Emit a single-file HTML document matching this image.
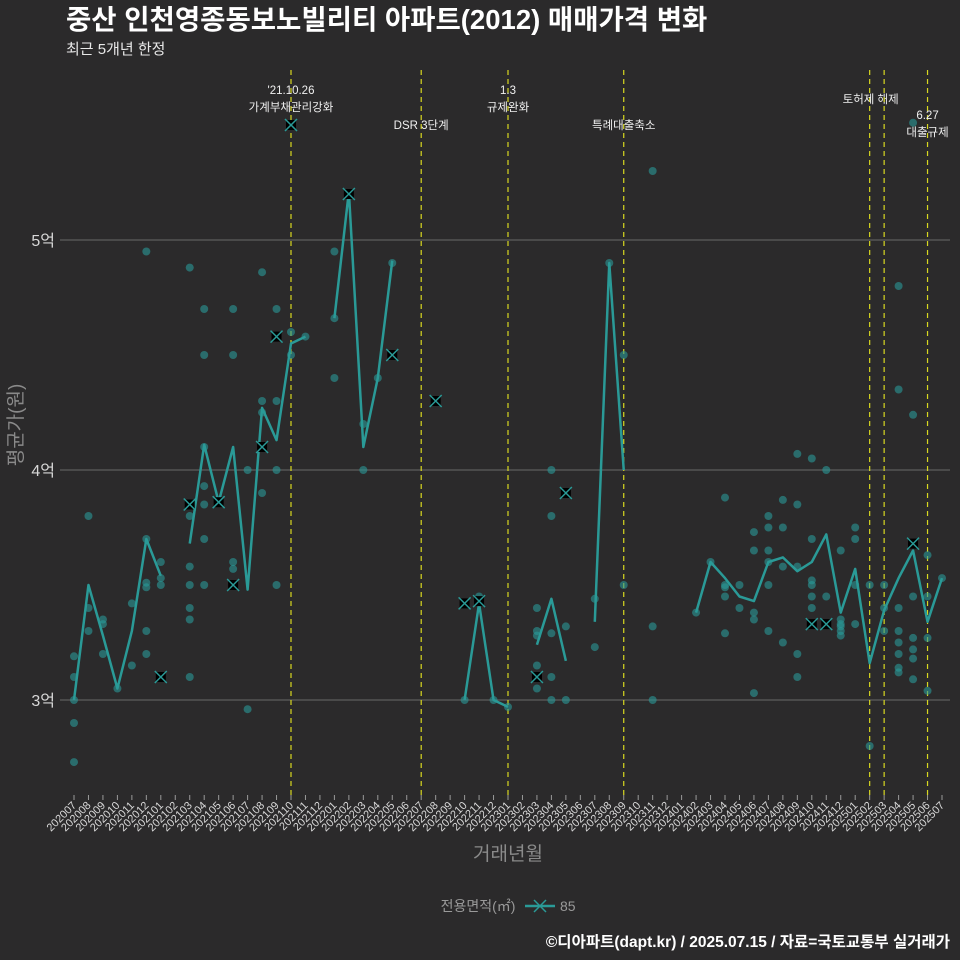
<!DOCTYPE html>
<html><head><meta charset="utf-8">
<style>
html,body{margin:0;padding:0;background:#2b2a2b;}
svg{display:block;font-family:"Liberation Sans","Noto Sans CJK KR",sans-serif;}
</style></head>
<body>
<svg id="chart" width="960" height="960" viewBox="0 0 960 960">
<rect x="0" y="0" width="960" height="960" fill="#2b2a2b"/>
<text x="66" y="29" font-size="27.5" font-weight="bold" fill="#ffffff">중산 인천영종동보노빌리티 아파트(2012) 매매가격 변화</text>
<text x="66" y="54" font-size="15" fill="#e8e8e8">최근 5개년 한정</text>
<g id="grid"></g>
<g id="vlines"></g>
<g id="marks"></g>
<g id="xaxis"></g>
<text transform="translate(22,425) rotate(-90)" text-anchor="middle" font-size="19" fill="#8a8a8a">평균가(원)</text>
<text x="508" y="860" text-anchor="middle" font-size="19" fill="#8a8a8a">거래년월</text>
<g>
<text x="478" y="911" text-anchor="middle" font-size="14" fill="#9a9a9a">전용면적(㎡)</text>
<g>
<line x1="525" y1="906" x2="555" y2="906" stroke="#2a9a97" stroke-width="2.5"/>
<path d="M534 900 L546 912 M546 900 L534 912" stroke="#2a9a97" stroke-width="1.5"/>
<text x="560" y="911" font-size="14" fill="#9a9a9a">85</text>
</g>
</g>
<text x="950" y="947" text-anchor="end" font-size="15.5" font-weight="bold" fill="#ffffff">©디아파트(dapt.kr) / 2025.07.15 / 자료=국토교통부 실거래가</text>
</svg>
<script>
const months = [];
for (let y = 2020; y <= 2025; y++) for (let m = 1; m <= 12; m++) {
  const k = y * 100 + m; if (k >= 202007 && k <= 202507) months.push(String(k));
}
const yTicks = [3, 4, 5];
const yTickLabels = ['3억', '4억', '5억'];
// monthly mean line (gaps where months missing)
const meanIdx = [0,1,2,3,4,5,6, 8,9,10,11,12,13,14,15,16, 18,19,20,21,22, 27,28,29,30, 32,33,34, 36,37,38, 43,44,45,46,47,48,49,50,51,52,53,54,55,56,57,58,59,60];
const meanVal = [3.0,3.5,3.28,3.05,3.3,3.70,3.54, 3.68,4.11,3.86,4.1,3.48,4.27,4.13,4.55,4.58, 4.66,5.21,4.1,4.4,4.91, 3.0,3.42,3.0,2.97, 3.24,3.44,3.17, 3.34,4.9,4.0, 3.38,3.6,3.53,3.45,3.43,3.6,3.62,3.56,3.6,3.72,3.38,3.57,3.16,3.39,3.53,3.65,3.34,3.53];
// individual transactions grouped by month index
const dotIdx = [0,1,2,3,4,5,6,8,9,11,12,13,14,15,16,18,20,21,22,27,28,29,30,32,33,34,36,37,38,40,43,44,45,46,47,48,49,50,51,52,53,54,55,56,57,58,59,60];
const dotVals = [
 [3.19,3.10,3.0,2.90,2.73],
 [3.80,3.40,3.30],
 [3.35,3.33,3.2],
 [3.05],
 [3.42,3.15],
 [4.95,3.70,3.51,3.49,3.3,3.2],
 [3.6,3.53,3.5],
 [4.88,3.85,3.80,3.58,3.5,3.40,3.35,3.10],
 [4.7,4.5,4.1,3.93,3.85,3.70,3.5],
 [4.7,4.5,3.6,3.57],
 [4.0,2.96],
 [4.86,4.3,4.25,3.9],
 [4.7,4.3,4.0,3.5],
 [4.6,4.5],
 [4.58],
 [4.95,4.66,4.4],
 [4.0,4.2],
 [4.4],
 [4.9],
 [3.0],
 [3.45],
 [3.0],
 [2.97],
 [3.40,3.30,3.28,3.15,3.05],
 [4.0,3.8,3.29,3.1,3.0],
 [3.32,3.0],
 [3.44,3.23],
 [4.9],
 [4.5,3.5],
 [5.3,3.32,3.0],
 [3.38],
 [3.6],
 [3.88,3.5,3.49,3.45,3.29],
 [3.5,3.4],
 [3.73,3.65,3.38,3.35,3.03],
 [3.80,3.75,3.65,3.6,3.5,3.3],
 [3.87,3.75,3.58,3.25],
 [4.07,3.85,3.58,3.2,3.1],
 [4.05,3.70,3.52,3.5,3.45,3.4],
 [4.0,3.45],
 [3.65,3.35,3.33,3.32,3.3,3.28],
 [3.75,3.70,3.5,3.33],
 [3.5,2.8],
 [3.5,3.4,3.3],
 [4.8,4.35,3.4,3.3,3.25,3.2,3.14,3.12],
 [5.51,4.24,3.45,3.27,3.22,3.18,3.09],
 [3.63,3.45,3.27,3.04],
 [3.53]
];
// highlighted (x) transactions
const xIdx = [6,8,10,11,13,14,15,19,22,25,27,28,32,34,51,52,58];
const xVal = [3.1,3.85,3.86,3.5,4.1,4.58,5.5,5.2,4.5,4.3,3.42,3.43,3.1,3.9,3.33,3.33,3.68];
// policy events
const evIdx = [15,24,30,38,55,56,59];
const evLabel1 = ["'21.10.26","","1.3","","토허제 해제","","6.27"];
const evLabel2 = ["가계부채관리강화","DSR 3단계","규제완화","특례대출축소","","","대출규제"];

const NS = 'http://www.w3.org/2000/svg';
const xS = i => 74 + i * (942 - 74) / 60;
const yS = v => 700 - (v - 3) * 230;
function mk(tag, attrs, parent) {
  const e = document.createElementNS(NS, tag);
  for (const k in attrs) e.setAttribute(k, attrs[k]);
  parent.appendChild(e); return e;
}
const grid = document.getElementById('grid');
yTicks.forEach((t, i) => {
  const l = mk('line', {x1: 60, x2: 950, y1: yS(t), y2: yS(t), stroke: '#5e5e5e', 'stroke-width': 1.2}, grid);
  
  
  const tx = mk('text', {x: 55, y: yS(t) + 6, 'text-anchor': 'end', 'font-size': 16, fill: '#d8d8d8'}, grid);
  tx.textContent = yTickLabels[i];
  
  
});
const vl = document.getElementById('vlines');
evIdx.forEach((ix, i) => {
  const x = xS(ix);
  const l = mk('line', {x1: x, x2: x, y1: 70, y2: 795, stroke: '#d8d820', 'stroke-width': 1.2, 'stroke-dasharray': '5,4'}, vl);
  
  
  const lx = ix === 55 ? x + 1 : x;
  const lines = [evLabel1[i], evLabel2[i]].filter(s => s);
  let ys = ix === 59 ? [119, 136] : (lines.length === 2 ? [94, 111] : (ix === 55 ? [103] : [129]));
  lines.forEach((s, j) => {
    const t = mk('text', {x: lx, y: ys[j], 'text-anchor': 'middle', 'font-size': 11.5, fill: '#f0f0f0'}, vl);
    t.textContent = s;
    
    
  });
});
const marks = document.getElementById('marks');
dotIdx.forEach((ix, i) => {
  dotVals[i].forEach(v => {
    const c = mk('circle', {cx: xS(ix), cy: yS(v), r: 4, fill: '#2a9a97', 'fill-opacity': 0.6}, marks);
    
    
  });
});
let segs = [], cur = [];
meanIdx.forEach((ix, i) => {
  if (cur.length && ix !== meanIdx[i - 1] + 1) { segs.push(cur); cur = []; }
  cur.push([xS(ix), yS(meanVal[i])]);
});
segs.push(cur);
segs.forEach(s => {
  const p = mk('polyline', {points: s.map(q => q.join(',')).join(' '), fill: 'none', stroke: '#2a9a97', 'stroke-width': 2.5, 'stroke-linejoin': 'round'}, marks);
  
  
});
xIdx.forEach((ix, i) => {
  const x = xS(ix), y = yS(xVal[i]);
  const g = mk('g', {}, marks);
  
  
  mk('rect', {x: x - 5, y: y - 5, width: 10, height: 10, fill: '#000'}, g);
  mk('path', {d: `M${x-6} ${y-6} L${x+6} ${y+6} M${x+6} ${y-6} L${x-6} ${y+6}`, stroke: '#2a9a97', 'stroke-width': 1.5}, g);
});
const xa = document.getElementById('xaxis');
months.forEach((m, i) => {
  const x = xS(i);
  const tk = mk('line', {x1: x, x2: x, y1: 795, y2: 800, stroke: '#9a9a9a', 'stroke-width': 1}, xa);
  
  
  const t = mk('text', {x: x + 3, y: 806, 'text-anchor': 'end', 'font-size': 11, fill: '#d8d8d8', transform: `rotate(-45 ${x + 3} 806)`}, xa);
  t.textContent = m;
  
  
});
</script>
</body></html>
